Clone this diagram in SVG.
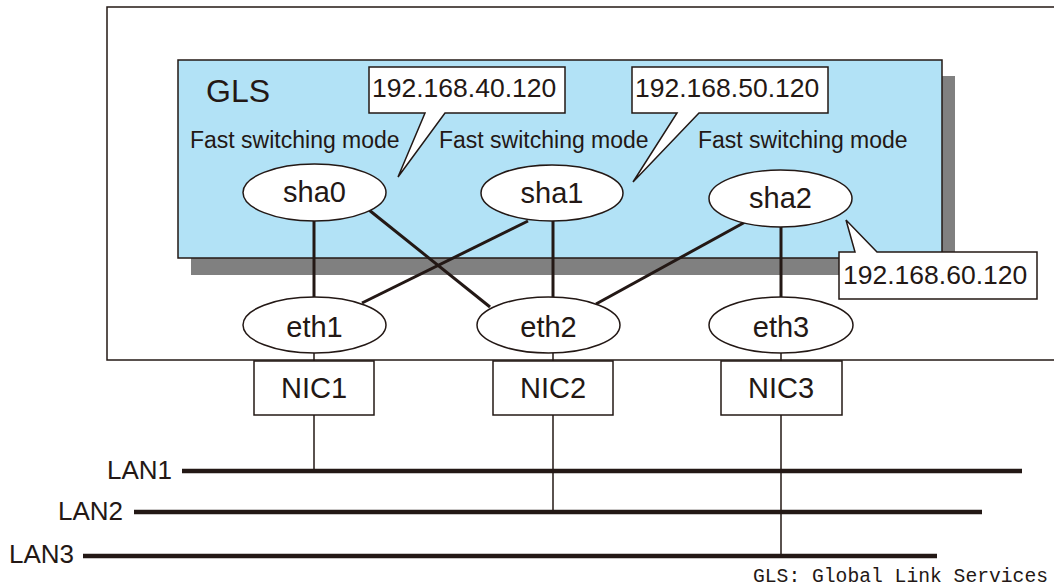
<svg xmlns="http://www.w3.org/2000/svg" width="1054" height="588" viewBox="0 0 1054 588">
<defs>
<style>
text{font-family:"Liberation Sans",Arial,sans-serif;fill:#231815}
.mode{font-size:23px}
.ip{font-size:26.5px}
.node{font-size:29px;text-anchor:middle}
.lan{font-size:26px;text-anchor:end}
.ell{fill:#fff;stroke:#231815;stroke-width:1.5}
.box{fill:#fff;stroke:#231815;stroke-width:1.5}
.thick{stroke:#231815;stroke-width:3;fill:none}
.thin{stroke:#231815;stroke-width:1.5;fill:none}
.lanline{stroke:#231815;stroke-width:4.5;fill:none}
</style>
</defs>
<rect width="1054" height="588" fill="#fff"/>
<g id="host">
<rect x="107" y="7" width="960" height="353" fill="#fff" stroke="#231815" stroke-width="1.5"/>
</g>
<g id="gls">
<rect x="191" y="76" width="764" height="199" fill="#808080"/>
<rect x="178" y="60" width="764" height="198" fill="#b2e2f6" stroke="#231815" stroke-width="1.5"/>
<text x="206" y="102" font-size="32">GLS</text>
<text class="mode" x="190" y="148">Fast switching mode</text>
<text class="mode" x="439" y="148">Fast switching mode</text>
<text class="mode" x="698" y="148">Fast switching mode</text>
</g>
<g id="connectors">
<line class="thick" x1="314" y1="221" x2="314" y2="297"/>
<line class="thick" x1="369" y1="210" x2="490" y2="307"/>
<line class="thick" x1="528" y1="221" x2="362" y2="303"/>
<line class="thick" x1="553" y1="221" x2="553" y2="297"/>
<line class="thick" x1="747" y1="221" x2="596" y2="304"/>
<line class="thick" x1="781" y1="227" x2="781" y2="297"/>
<line class="thin" x1="314" y1="353" x2="314" y2="361"/>
<line class="thin" x1="553" y1="353" x2="553" y2="361"/>
<line class="thin" x1="781" y1="353" x2="781" y2="361"/>
<line class="thin" x1="314" y1="415" x2="314" y2="471"/>
<line class="thin" x1="553" y1="415" x2="553" y2="512"/>
<line class="thin" x1="781" y1="415" x2="781" y2="556"/>
</g>
<g id="sha0"><ellipse class="ell" cx="314.5" cy="192.5" rx="71.5" ry="28.5"/><text class="node" x="314.5" y="202">sha0</text></g>
<g id="sha1"><ellipse class="ell" cx="552" cy="193" rx="71" ry="28"/><text class="node" x="552" y="203">sha1</text></g>
<g id="sha2"><ellipse class="ell" cx="780.5" cy="198.5" rx="71.5" ry="28.5"/><text class="node" x="780.5" y="208">sha2</text></g>
<g id="eth1"><ellipse class="ell" cx="314.5" cy="325" rx="71.5" ry="28"/><text class="node" x="314.5" y="337">eth1</text></g>
<g id="eth2"><ellipse class="ell" cx="548.5" cy="325" rx="71.5" ry="28"/><text class="node" x="548.5" y="337">eth2</text></g>
<g id="eth3"><ellipse class="ell" cx="781" cy="325" rx="72" ry="28"/><text class="node" x="781" y="337">eth3</text></g>
<g id="nic1"><rect class="box" x="254" y="361" width="120" height="54"/><text class="node" x="314" y="398">NIC1</text></g>
<g id="nic2"><rect class="box" x="493" y="361" width="120" height="54"/><text class="node" x="553" y="398">NIC2</text></g>
<g id="nic3"><rect class="box" x="721" y="361" width="121" height="54"/><text class="node" x="781" y="398">NIC3</text></g>
<g id="ip40">
<path d="M369,67 H565 V113 H445 L398,177 L425,113 H369 Z" fill="#fff" stroke="#231815" stroke-width="1.5"/>
<text class="ip" x="372" y="97">192.168.40.120</text>
</g>
<g id="ip50">
<path d="M632,67 H828 V113 H699 L633,182 L677,113 H632 Z" fill="#fff" stroke="#231815" stroke-width="1.5"/>
<text class="ip" x="635" y="97">192.168.50.120</text>
</g>
<g id="ip60">
<path d="M839,252 H855 L846,220 L877,252 H1037 V299 H839 Z" fill="#fff" stroke="#231815" stroke-width="1.5"/>
<text class="ip" x="843" y="284">192.168.60.120</text>
</g>
<g id="lan1"><line class="lanline" x1="182" y1="471" x2="1022" y2="471"/><text class="lan" x="172" y="479">LAN1</text></g>
<g id="lan2"><line class="lanline" x1="134" y1="512" x2="982" y2="512"/><text class="lan" x="123" y="520">LAN2</text></g>
<g id="lan3"><line class="lanline" x1="83" y1="556" x2="937" y2="556"/><text class="lan" x="74" y="563">LAN3</text></g>
<text x="753" y="582" font-family="'Liberation Mono',monospace" font-size="20" textLength="295" lengthAdjust="spacingAndGlyphs" style="font-family:'Liberation Mono',monospace">GLS: Global Link Services</text>
</svg>
